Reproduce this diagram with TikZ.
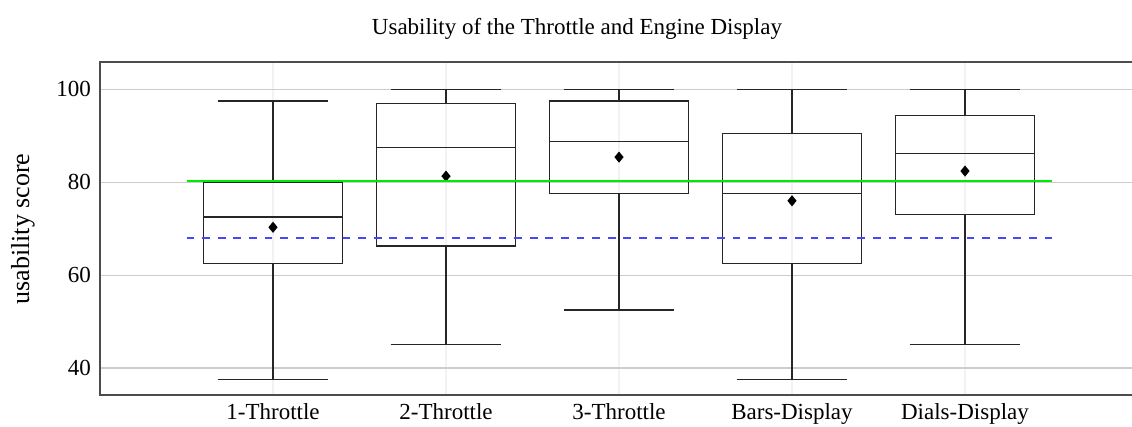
\documentclass[tikz,border=0pt]{standalone}
\usepackage{fontspec}
\setmainfont{Liberation Serif}
\begin{document}
\begin{tikzpicture}[x=1pt,y=1pt,
  lbl/.style={inner sep=0pt,font=\fontsize{23}{27}\selectfont},
  gridh/.style={draw=black!20,line width=1.1pt},
  gridv/.style={draw=black!5,line width=1.1pt},
  frame/.style={draw=black!70,line width=1.4pt},
  boxline/.style={draw=black!85,line width=1.2pt},
  meanmark/.style={fill=black},
  goodline/.style={draw={rgb,255:red,0;green,235;blue,0},line width=2.4pt},
  avgline/.style={draw={rgb,255:red,70;green,70;blue,255},line width=1.2pt,dash pattern=on 7.8pt off 7.8pt}]
\clip (0,0) rectangle (1132,426);
\useasboundingbox (0,0) rectangle (1132,426);
\begin{scope}[x=173pt,y=4.645pt,shift={(100pt,-127.8pt)}]
  % grid
  \foreach \i in {1,...,5} \draw[gridv] (\i,34.2) -- (\i,105.9);
  \foreach \v in {40,60,80,100} {
    \draw[gridh] (0,\v) -- (6,\v);
    \node[lbl,anchor=east] (t\v) at ([xshift=-9pt]0,\v) {\v};
  }
  % boxes: i, lw, q1, med, q3, uw, mean
  \foreach \i/\lw/\qa/\md/\qc/\uw/\mn in {
      1/37.5/62.5/72.5/80/97.5/70.3,
      2/45/66.25/87.5/96.875/100/81.3,
      3/52.5/77.5/88.75/97.5/100/85.4,
      4/37.5/62.5/77.5/90.5/100/76.0,
      5/45/73.1/86.15/94.3/100/82.4} {
    \draw[boxline] (\i-0.4,\qa) rectangle (\i+0.4,\qc);
    \draw[boxline] (\i-0.4,\md) -- (\i+0.4,\md);
    \draw[boxline] (\i,\qc) -- (\i,\uw);
    \draw[boxline] (\i,\qa) -- (\i,\lw);
    \draw[boxline] (\i-0.32,\uw) -- (\i+0.32,\uw);
    \draw[boxline] (\i-0.32,\lw) -- (\i+0.32,\lw);
    \fill[meanmark] ([yshift=5.6pt]\i,\mn) -- ([xshift=4.6pt]\i,\mn) -- ([yshift=-5.6pt]\i,\mn) -- ([xshift=-4.6pt]\i,\mn) -- cycle;
  }
  % reference lines
  \draw[goodline] (0.5,80.3) -- (5.5,80.3);
  \draw[avgline] (0.5,68) -- (5.5,68);
  % frame
  \draw[frame] (0,34.2) rectangle (6,105.9);
\end{scope}
% x labels
\foreach \i/\t in {1/1-Throttle,2/2-Throttle,3/3-Throttle,4/Bars-Display,5/Dials-Display}
  \node[lbl,anchor=base] (x\i) at (100+173*\i,7) {\t};
\node[lbl,anchor=base] (title) at (577,391) {Usability of the Throttle and Engine Display};
\node[lbl,rotate=90,font=\fontsize{26}{30}\selectfont] (ylab) at (23,197) {usability score};
\end{tikzpicture}
\end{document}
